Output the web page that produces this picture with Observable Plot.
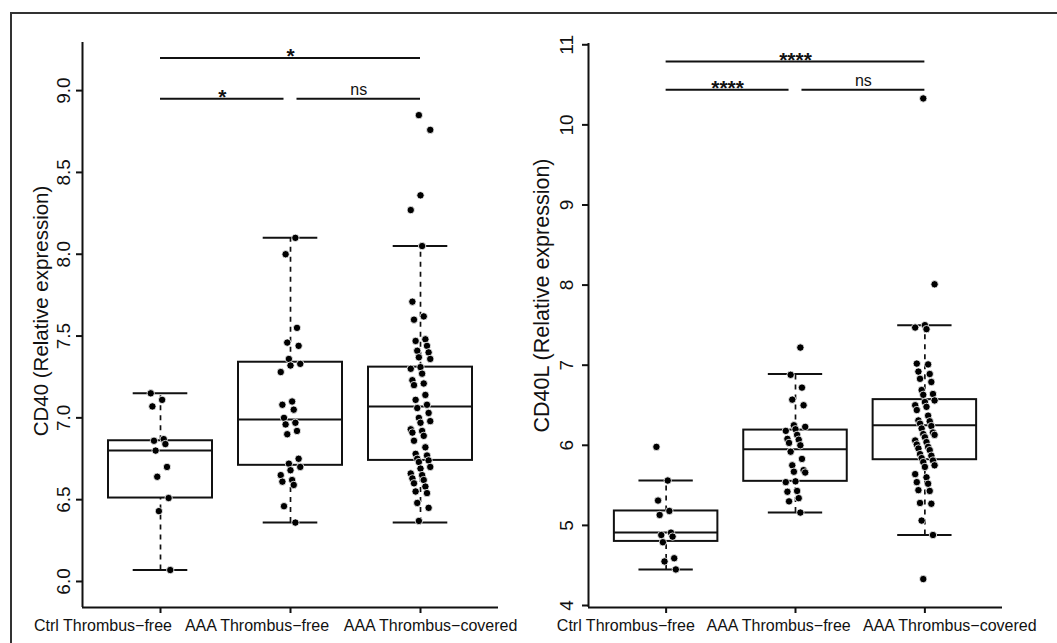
<!DOCTYPE html>
<html><head><meta charset="utf-8">
<script src="https://cdn.jsdelivr.net/npm/d3@7"></script>
<script src="https://cdn.jsdelivr.net/npm/@observablehq/plot@0.6"></script>
<style>
body{margin:0;background:#fff;width:1057px;height:643px;overflow:hidden;position:relative;font-family:"Liberation Sans",Arial,sans-serif}
#left{position:absolute;left:0;top:0}
#right{position:absolute;left:528px;top:0}
#frame{position:absolute;left:10px;top:12px;width:1100px;height:700px;border-top:2px solid #333;border-left:2px solid #333;pointer-events:none}
</style></head><body>
<div id="left"></div><div id="right"></div><div id="frame"></div>
<script>
// ---- categories ----
const groups = ["Ctrl Thrombus−free", "AAA Thrombus−free", "AAA Thrombus−covered"];

// ---- CD40 (left panel) ----
const cd40Ctrl = [7.15, 7.11, 7.07, 6.87, 6.86, 6.84, 6.80, 6.70, 6.64, 6.51, 6.43, 6.07];
const cd40AAAFree = [8.10, 8.00, 7.55, 7.46, 7.44, 7.36, 7.33, 7.32, 7.28, 7.10, 7.08, 7.05, 7.00, 6.97, 6.96, 6.92, 6.90, 6.75, 6.72, 6.70, 6.68, 6.65, 6.62, 6.61, 6.59, 6.46, 6.36];
const cd40AAACovered = [8.85, 8.76, 8.36, 8.27, 8.05, 7.71, 7.62, 7.60, 7.48, 7.47, 7.44, 7.41, 7.40, 7.37, 7.36, 7.31, 7.30, 7.27, 7.23, 7.21, 7.20, 7.14, 7.11, 7.08, 7.06, 7.03, 7.00, 6.98, 6.97, 6.93, 6.92, 6.91, 6.89, 6.86, 6.82, 6.78, 6.77, 6.75, 6.74, 6.73, 6.70, 6.69, 6.66, 6.65, 6.63, 6.62, 6.60, 6.58, 6.55, 6.54, 6.48, 6.45, 6.37];
const cd40Lower  = [6.07, 6.36, 6.36];
const cd40Q1     = [6.51, 6.71, 6.74];
const cd40Median = [6.80, 6.99, 7.07];
const cd40Q3     = [6.86, 7.34, 7.31];
const cd40Upper  = [7.15, 8.10, 8.05];
const cd40Ticks  = [6.0, 6.5, 7.0, 7.5, 8.0, 8.5, 9.0];
const cd40Sig    = ["*", "*", "ns"];
const cd40SigY   = [9.20, 8.95, 8.95];

// ---- CD40L (right panel) ----
const cd40lCtrl = [5.98, 5.56, 5.31, 5.18, 5.13, 4.91, 4.88, 4.86, 4.79, 4.59, 4.55, 4.45];
const cd40lAAAFree = [7.22, 6.88, 6.72, 6.57, 6.50, 6.25, 6.23, 6.20, 6.18, 6.13, 6.08, 6.07, 6.03, 6.00, 5.92, 5.83, 5.75, 5.69, 5.67, 5.66, 5.55, 5.54, 5.43, 5.42, 5.34, 5.30, 5.16];
const cd40lAAACovered = [10.33, 8.01, 7.50, 7.47, 7.45, 7.02, 7.01, 6.92, 6.89, 6.83, 6.79, 6.69, 6.64, 6.63, 6.56, 6.54, 6.50, 6.48, 6.44, 6.37, 6.31, 6.30, 6.27, 6.24, 6.21, 6.16, 6.14, 6.13, 6.10, 6.06, 6.04, 6.01, 5.98, 5.96, 5.94, 5.89, 5.87, 5.84, 5.81, 5.79, 5.75, 5.73, 5.64, 5.60, 5.54, 5.52, 5.44, 5.43, 5.28, 5.27, 5.06, 4.88, 4.33];
const cd40lLower  = [4.45, 5.16, 4.88];
const cd40lQ1     = [4.80, 5.55, 5.82];
const cd40lMedian = [4.91, 5.95, 6.25];
const cd40lQ3     = [5.18, 6.19, 6.57];
const cd40lUpper  = [5.56, 6.89, 7.50];
const cd40lTicks  = [4, 5, 6, 7, 8, 9, 10, 11];
const cd40lSig    = ["****", "****", "ns"];
const cd40lSigY   = [10.79, 10.44, 10.44];

// ---- comparisons (group indices) ----
const cmpFrom = [1, 1, 2];
const cmpTo   = [3, 2, 3];

const jit = (i, k) => ((((i + k * 5) * 7) % 13) - 6) / 6 * 0.075;

function panel(cfg) {
  const boxes = groups.map((g, k) => ({g: k + 1, lower: cfg.lower[k], q1: cfg.q1[k], med: cfg.med[k], q3: cfg.q3[k], upper: cfg.upper[k]}));
  const pts = cfg.values.flatMap((arr, k) => arr.map((v, i) => ({x: k + 1 + jit(i, k), v})));
  const br = cmpFrom.map((f, k) => ({x1: f === 2 ? 2.05 : f, x2: cmpTo[k] === 2 ? 1.95 : cmpTo[k], y: cfg.sigY[k], label: cfg.sig[k]}));
  const labs = groups.map((g, k) => ({x: k + 1 + cfg.labelShift[k] / 130, text: g}));
  const [y0, y1] = cfg.yDomain;
  const sw = 2;
  return Plot.plot({
    width: cfg.width, height: 643,
    marginLeft: cfg.marginLeft, marginRight: cfg.marginRight, marginTop: cfg.marginTop, marginBottom: 36,
    style: {background: "transparent", fontFamily: "'Liberation Sans', Arial, sans-serif", color: "#111"},
    x: {domain: [0.4, 3.6]},
    y: {domain: cfg.yDomain},
    marks: [
      Plot.ruleX([0.4], {y1: y0, y2: y1, strokeWidth: sw}),
      Plot.ruleY([y0], {x1: 0.4, x2: 3.6, strokeWidth: sw}),
      Plot.axisY({ticks: cfg.ticks, tickSize: 6, tickFormat: () => "", strokeWidth: sw, label: null}),
      Plot.axisX({ticks: [1, 2, 3], tickSize: 6, tickFormat: () => "", strokeWidth: sw, label: null}),
      Plot.text(labs, {x: "x", y: y0, text: "text", dy: 18, fontSize: 16, textAnchor: "middle", lineAnchor: "middle"}),
      Plot.text(cfg.ticks, {x: 0.4, y: d => d, text: d => cfg.fmt(d), rotate: -90, dx: cfg.tickDx, fontSize: 19, textAnchor: "middle"}),
      Plot.text([cfg.title], {x: 0.4, y: (y0 + y1) / 2, text: d => d, rotate: -90, dx: cfg.titleDx, dy: cfg.titleDy, fontSize: cfg.titleSize, textAnchor: "middle"}),
      Plot.rect(boxes, {x1: d => d.g - 0.4, x2: d => d.g + 0.4, y1: "q1", y2: "q3", fill: "white", stroke: "#111", strokeWidth: sw}),
      Plot.ruleY(boxes, {y: "med", x1: d => d.g - 0.4, x2: d => d.g + 0.4, strokeWidth: sw}),
      Plot.ruleX(boxes, {x: "g", y1: "q3", y2: "upper", strokeWidth: 1.7, strokeDasharray: "5,5"}),
      Plot.ruleX(boxes, {x: "g", y1: "lower", y2: "q1", strokeWidth: 1.7, strokeDasharray: "5,5"}),
      Plot.ruleY(boxes, {y: "upper", x1: d => d.g - 0.21, x2: d => d.g + 0.21, strokeWidth: sw}),
      Plot.ruleY(boxes, {y: "lower", x1: d => d.g - 0.21, x2: d => d.g + 0.21, strokeWidth: sw}),
      Plot.dot(pts, {x: "x", y: "v", r: 3.7, fill: "black", stroke: "white", strokeWidth: 0.8}),
      Plot.ruleY(br, {y: "y", x1: "x1", x2: "x2", strokeWidth: sw}),
      Plot.text(br.filter(d => d.label !== "ns"), {x: d => (d.x1 + d.x2) / 2, y: "y", text: "label", lineAnchor: "bottom", dy: 5, fontSize: 21, fontWeight: "bold"}),
      Plot.text(br.filter(d => d.label === "ns"), {x: d => (d.x1 + d.x2) / 2, y: "y", text: "label", lineAnchor: "bottom", dy: -4, fontSize: 16})
    ]
  });
}

document.getElementById("left").append(panel({
  width: 528, marginLeft: 82, marginRight: 30, marginTop: 42,
  yDomain: [5.841, 9.294], ticks: cd40Ticks, fmt: d3.format(".1f"),
  values: [cd40Ctrl, cd40AAAFree, cd40AAACovered],
  lower: cd40Lower, q1: cd40Q1, med: cd40Median, q3: cd40Q3, upper: cd40Upper,
  sig: cd40Sig, sigY: cd40SigY, labelShift: [-57.5, -33.5, 10],
  title: "CD40 (Relative expression)", tickDx: -19, titleDx: -41, titleDy: -14, titleSize: 20.5
}));
document.getElementById("right").append(panel({
  width: 529, marginLeft: 60, marginRight: 55, marginTop: 43,
  yDomain: [3.975, 11.016], ticks: cd40lTicks, fmt: d3.format("d"),
  values: [cd40lCtrl, cd40lAAAFree, cd40lAAACovered],
  lower: cd40lLower, q1: cd40lQ1, med: cd40lMedian, q3: cd40lQ3, upper: cd40lUpper,
  sig: cd40lSig, sigY: cd40lSigY, labelShift: [-40.5, -17, 25],
  title: "CD40L (Relative expression)", tickDx: -22, titleDx: -46, titleDy: -30, titleSize: 21.5
}));
</script>
</body></html>
